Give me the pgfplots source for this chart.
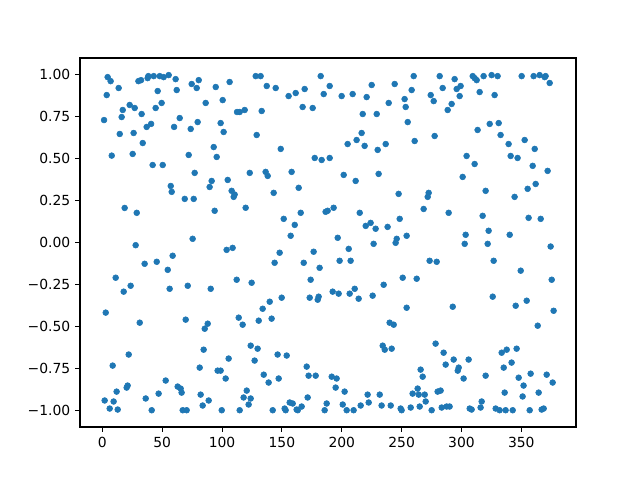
\documentclass[border=0pt]{standalone}
\usepackage{pgfplots}
\pgfplotsset{compat=1.18}
\usepackage{fontspec}
\setmainfont{DejaVu Sans}
\definecolor{mplblue}{HTML}{1F77B4}

\begin{document}
\begin{tikzpicture}
\path[use as bounding box] (0,0) rectangle (460.8pt,345.6pt);
\begin{axis}[
    at={(57.6pt,38.16pt)}, anchor=south west,
    scale only axis,
    width=357.12pt, height=265.68pt,
    xmin=-18.7, xmax=395.7,
    ymin=-1.1, ymax=1.1,
    xtick={0,50,...,350},
    ytick={-1,-0.75,-0.5,-0.25,0,0.25,0.5,0.75,1},
    yticklabels={−1.00,−0.75,−0.50,−0.25,0.00,0.25,0.50,0.75,1.00},
    xtick pos=bottom, ytick pos=left,
    tick align=outside,
    major tick length=3.5pt,
    tick style={black, line width=0.8pt},
    axis line style={line width=0.8pt},
    tick label style={font=\fontsize{10}{12}\selectfont},
    /pgf/number format/assume math mode=true,
    clip=false,
]
\addplot[only marks, color=mplblue, mark=*, mark size=2.1pt, mark options={solid}]
table {
x y
4.4 0.986
6.9 0.962
13.6 0.921
3.6 0.879
1.4 0.730
17.0 0.790
16.1 0.748
22.8 0.820
27.0 0.802
32.8 0.766
14.5 0.647
26.1 0.653
37.0 0.689
40.7 0.707
33.7 0.593
7.8 0.518
25.3 0.528
42.0 0.462
50.4 0.462
57.1 0.337
57.9 0.302
18.6 0.206
28.7 0.177
27.8 -0.016
30.1 0.962
32.3 0.968
37.8 0.980
38.4 0.992
42.9 0.992
47.9 0.992
51.2 0.986
55.4 0.998
46.2 0.903
44.5 0.802
49.5 0.832
59.9 0.689
61.2 0.974
62.1 0.909
74.6 0.945
78.8 0.921
80.5 0.968
94.7 0.927
106.3 0.957
86.3 0.832
100.5 0.849
112.5 0.778
114.7 0.778
118.9 0.790
64.6 0.742
73.8 0.677
79.6 0.718
98.8 0.712
101.3 0.659
93.0 0.569
95.5 0.510
72.1 0.522
77.1 0.415
123.1 0.415
91.3 0.367
89.6 0.331
104.7 0.373
108.0 0.308
110.5 0.286
109.7 0.272
68.8 0.260
76.3 0.260
93.8 0.189
119.7 0.207
75.4 0.022
128.1 0.992
132.2 0.992
137.3 0.933
144.8 0.921
155.6 0.873
161.5 0.891
169.0 0.915
182.4 0.992
184.9 0.885
189.9 0.933
167.3 0.808
175.7 0.802
133.1 0.784
128.9 0.641
149.0 0.558
177.4 0.504
183.2 0.492
189.9 0.504
136.4 0.421
138.1 0.397
158.1 0.421
164.0 0.326
143.1 0.296
165.7 0.177
186.5 0.183
188.2 0.189
193.2 0.207
151.5 0.141
160.7 0.105
157.3 0.040
199.9 0.873
209.1 0.885
220.8 0.867
225.0 0.939
244.2 0.945
239.2 0.832
252.5 0.855
253.4 0.808
255.1 0.718
217.5 0.766
229.2 0.766
216.6 0.653
204.9 0.587
212.4 0.611
219.1 0.576
230.0 0.552
236.7 0.587
201.6 0.403
211.6 0.367
230.8 0.409
247.5 0.290
215.0 0.177
224.1 0.117
220.0 0.099
228.3 0.082
238.3 0.093
248.4 0.141
196.6 0.028
226.6 -0.008
245.9 0.022
245.0 -0.002
254.2 0.040
260.1 0.992
281.8 0.992
294.3 0.974
309.4 0.992
311.0 0.980
312.7 0.968
318.5 0.992
258.4 0.909
274.3 0.879
276.8 0.843
284.3 0.921
296.0 0.915
299.3 0.933
298.5 0.873
315.2 0.897
291.8 0.826
288.5 0.790
313.5 0.671
277.6 0.635
260.9 0.605
304.3 0.516
311.0 0.468
301.0 0.391
272.6 0.296
271.8 0.272
268.4 0.200
289.3 0.177
320.2 0.308
317.7 0.159
303.5 0.046
302.7 -0.008
325.2 0.998
330.2 0.992
350.3 0.992
360.3 0.992
365.3 0.998
369.5 0.986
370.3 0.992
373.7 0.951
327.7 0.879
323.6 0.707
331.1 0.712
332.7 0.641
339.4 0.587
352.8 0.611
361.2 0.558
341.1 0.516
346.9 0.504
359.5 0.457
372.0 0.427
344.4 0.272
355.3 0.320
362.0 0.349
356.1 0.147
366.2 0.141
322.7 0.070
340.3 0.046
321.9 -0.008
374.5 -0.024
35.3 -0.127
45.4 -0.115
54.6 -0.163
58.7 -0.079
11.1 -0.210
23.6 -0.258
17.8 -0.293
56.2 -0.276
2.8 -0.418
31.2 -0.478
22.0 -0.668
8.6 -0.734
52.9 -0.823
21.1 -0.853
20.3 -0.865
11.9 -0.889
47.0 -0.901
36.2 -0.930
1.9 -0.942
9.4 -0.948
6.1 -0.990
12.8 -0.996
41.2 -1.000
103.8 -0.044
108.8 -0.032
71.3 -0.258
90.5 -0.276
112.2 -0.222
124.7 -0.240
69.6 -0.460
88.0 -0.484
85.5 -0.514
113.9 -0.448
117.2 -0.490
84.6 -0.639
123.9 -0.615
105.5 -0.692
81.3 -0.746
96.3 -0.764
98.8 -0.764
103.0 -0.811
62.9 -0.859
65.4 -0.871
66.2 -0.895
82.1 -0.907
88.8 -0.942
83.8 -0.972
120.6 -0.883
118.0 -0.924
123.9 -0.930
122.2 -0.966
67.1 -1.000
70.4 -1.000
99.7 -1.000
114.7 -1.000
148.1 -0.061
143.9 -0.121
176.5 -0.055
168.2 -0.121
181.5 -0.151
174.0 -0.222
149.8 -0.329
139.8 -0.353
133.9 -0.395
130.6 -0.466
141.4 -0.454
173.2 -0.329
180.7 -0.323
179.9 -0.341
129.7 -0.633
127.2 -0.704
146.4 -0.668
154.0 -0.674
170.7 -0.740
172.3 -0.794
178.2 -0.794
134.8 -0.788
138.9 -0.835
147.3 -0.811
171.5 -0.924
156.5 -0.954
159.0 -0.960
166.5 -0.978
152.3 -0.990
153.1 -1.000
162.3 -0.996
163.2 -1.000
142.3 -1.000
185.7 -1.000
187.4 -0.960
205.8 -0.038
198.2 -0.109
207.4 -0.109
250.9 -0.210
235.0 -0.252
192.4 -0.293
197.4 -0.305
206.6 -0.305
210.8 -0.276
214.1 -0.335
225.8 -0.317
254.2 -0.389
240.0 -0.478
243.4 -0.490
234.2 -0.615
235.9 -0.639
241.7 -0.633
191.6 -0.800
195.7 -0.811
194.9 -0.865
202.4 -0.889
221.6 -0.907
231.7 -0.907
222.5 -0.954
200.8 -0.966
215.8 -0.972
233.3 -0.972
240.9 -0.972
204.1 -1.000
209.9 -1.000
249.2 -0.990
250.0 -1.000
273.4 -0.109
279.3 -0.115
262.6 -0.216
292.7 -0.383
278.4 -0.603
285.1 -0.657
293.5 -0.698
306.0 -0.698
286.8 -0.728
297.7 -0.746
296.9 -0.764
301.8 -0.811
265.9 -0.758
267.6 -0.800
263.4 -0.871
259.2 -0.901
264.3 -0.907
269.3 -0.907
280.1 -0.889
282.6 -0.883
270.1 -0.948
257.6 -0.984
265.1 -0.978
275.1 -1.000
283.5 -0.984
287.6 -0.978
290.1 -0.978
306.9 -0.990
308.5 -0.996
316.0 -0.984
316.9 -0.948
326.9 -0.109
349.5 -0.168
375.4 -0.222
326.1 -0.323
345.3 -0.377
354.5 -0.347
377.0 -0.407
363.7 -0.496
333.6 -0.657
337.8 -0.639
346.1 -0.633
335.3 -0.746
341.9 -0.716
320.2 -0.794
347.8 -0.806
357.8 -0.782
371.2 -0.788
351.9 -0.853
376.2 -0.835
336.1 -0.895
364.5 -0.895
351.1 -0.918
328.6 -0.990
331.9 -1.000
336.9 -1.000
342.8 -1.000
357.0 -1.000
367.0 -0.996
368.7 -0.990
};
\end{axis}
\end{tikzpicture}
\end{document}
